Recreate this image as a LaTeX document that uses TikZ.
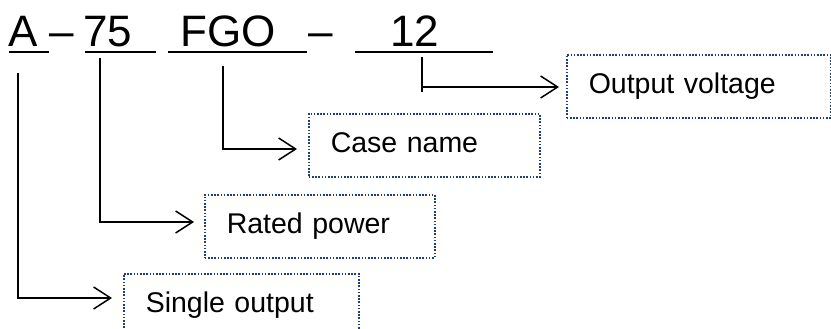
\documentclass[tikz,border=0pt]{standalone}
\usepackage{fontspec}
\setmainfont{Liberation Sans}
\usetikzlibrary{arrows.meta}
\definecolor{boxblue}{HTML}{1F3F6E}
\begin{document}
\begin{tikzpicture}[x=1pt,y=-1pt,
  code/.style={anchor=base west,inner sep=0pt,font=\fontsize{44}{44}\selectfont},
  uline/.style={line width=2.8pt},
  conn/.style={line width=1.5pt,-{Straight Barb[length=17pt,width=22pt,line width=1.5pt]}},
  stub/.style={line width=1.5pt},
  infobox/.style={draw=boxblue,line width=1.6pt,dash pattern=on 1.6pt off 1.6pt,
    anchor=north west,minimum height=63pt,inner xsep=22pt,inner ysep=0pt,
    text height=20pt,text depth=6pt,align=left,
    font=\fontsize{28.5}{28.5}\selectfont}]
\useasboundingbox (0,0) rectangle (831,329);
% code text
\node[code] (tA) at (8,47) {A};
\node[code] (d1) at (49,47) {–};
\node[code] (t75) at (83,47) {75};
\node[code] (tFGO) at (180,47) {FGO};
\node[code] (d2) at (308,47) {–};
\node[code] (t12) at (390,47) {12};
% underlines
\coordinate (uA1) at (9,52);   \coordinate (uA2) at (49,52);
\coordinate (u751) at (85,52); \coordinate (u752) at (156,52);
\coordinate (uF1) at (168,52); \coordinate (uF2) at (307,52);
\coordinate (u121) at (355,52); \coordinate (u122) at (493,52);
\draw[uline] (uA1) -- (uA2);
\draw[uline] (u751) -- (u752);
\draw[uline] (uF1) -- (uF2);
\draw[uline] (u121) -- (u122);
% boxes
\node[infobox,text width=220pt] (bOut) at (566,54) {Output voltage};
\node[infobox,text width=187pt] (bCase) at (308,113) {Case name};
\node[infobox,text width=186pt] (bRated) at (204,194) {Rated power};
\node[infobox,text width=191pt] (bSingle) at (123,273) {Single output};
% connector coordinates
\coordinate (sA) at (18,73);    \coordinate (eA) at (112,298);
\coordinate (s75) at (100,58);  \coordinate (e75) at (194,222);
\coordinate (sF) at (223,66);   \coordinate (eF) at (297,149);
\coordinate (s12) at (422,57);  \coordinate (b12) at (422,92);
\coordinate (k12) at (422,87);  \coordinate (e12) at (559,87);
\draw[conn] (sA) |- (eA);
\draw[conn] (s75) |- (e75);
\draw[conn] (sF) |- (eF);
\draw[stub] (s12) -- (b12);
\draw[conn] (k12) -- (e12);
\end{tikzpicture}
\end{document}
